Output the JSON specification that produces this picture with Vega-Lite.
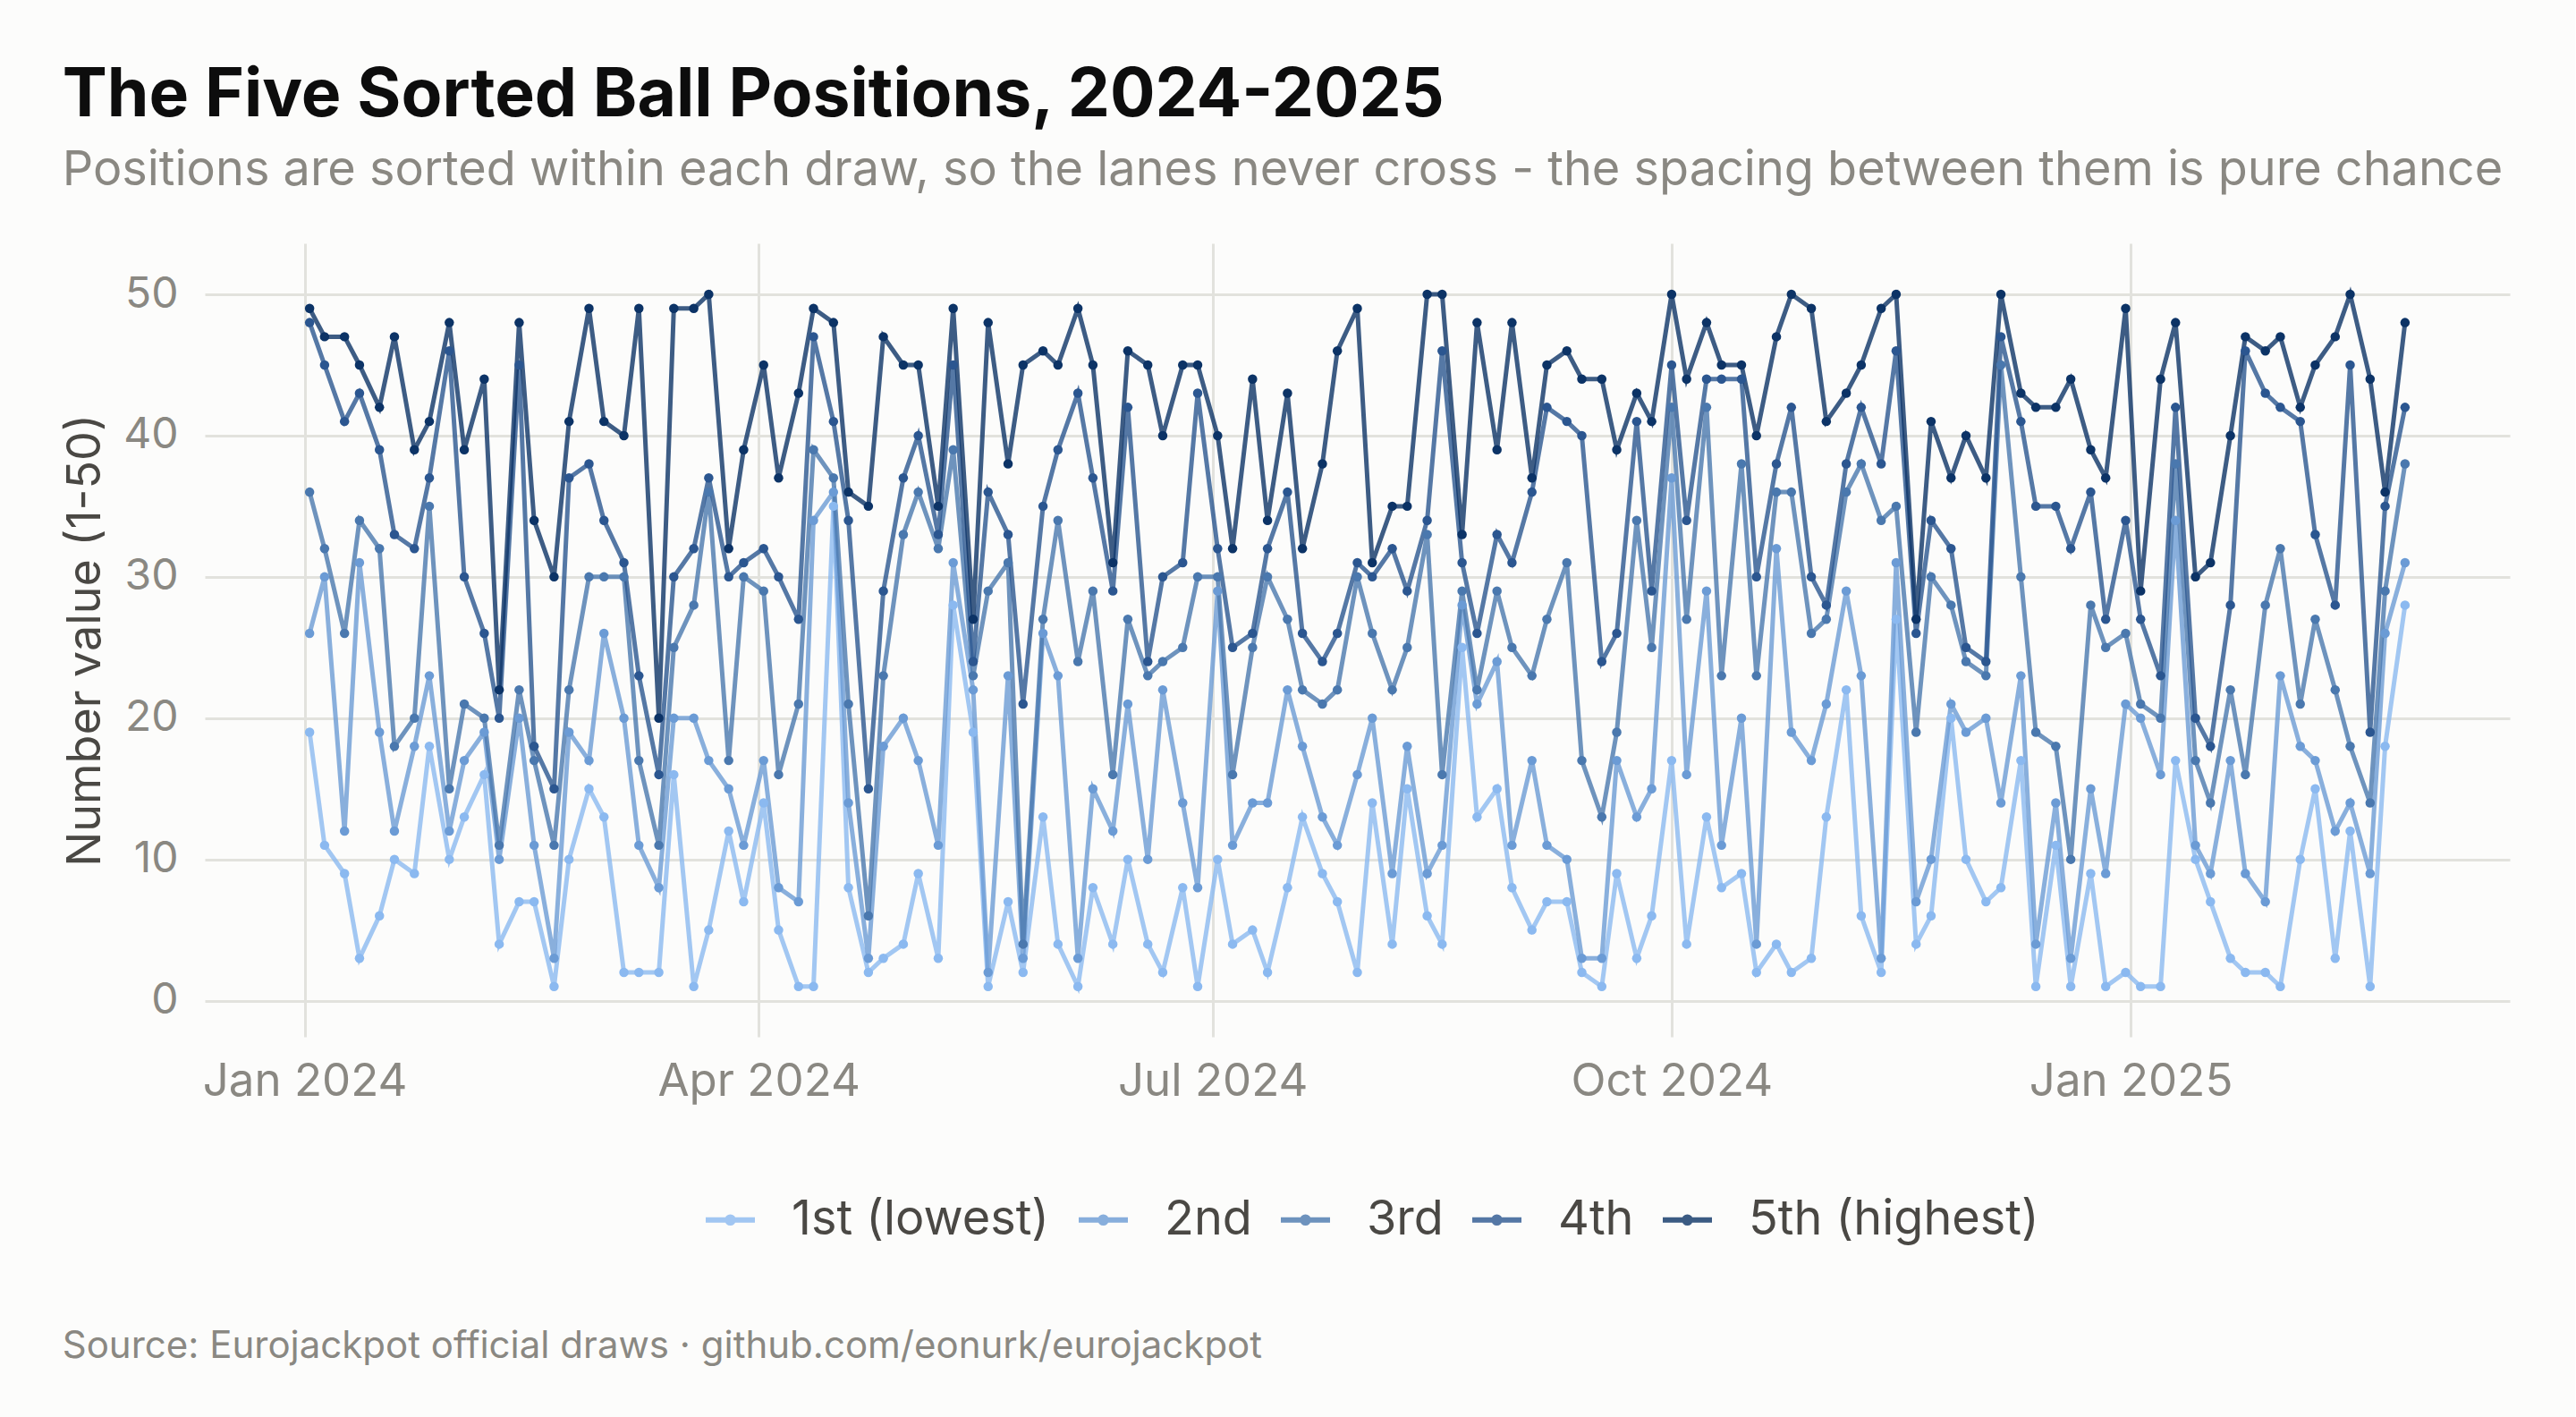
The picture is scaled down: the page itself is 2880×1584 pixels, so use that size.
{
  "$schema": "https://vega.github.io/schema/vega-lite/v6.json",
  "background": "#fcfcfb",
  "padding": {"left": 69, "top": 70, "right": 73, "bottom": 72},
  "title": {
    "text": "The Five Sorted Ball Positions, 2024-2025",
    "subtitle": "Positions are sorted within each draw, so the lanes never cross - the spacing between them is pure chance",
    "anchor": "start",
    "frame": "bounds",
    "font": "Inter",
    "fontSize": 75,
    "fontWeight": "bold",
    "color": "#0d0d0d",
    "subtitleFont": "Inter",
    "subtitleFontSize": 54,
    "subtitleColor": "#8a8882",
    "subtitlePadding": 18,
    "offset": 53
  },
  "vconcat": [
    {
      "width": 2577,
      "height": 887,
      "title": {
        "text": "Source: Eurojackpot official draws · github.com/eonurk/eurojackpot",
        "orient": "bottom",
        "anchor": "start",
        "frame": "bounds",
        "font": "Inter",
        "fontSize": 42,
        "fontWeight": "normal",
        "color": "#8a8882",
        "offset": 251
      },
      "data": {
        "values": [
          {"d":"2024-01-02","1st":19,"2nd":26,"3rd":36,"4th":48,"5th":49},
          {"d":"2024-01-05","1st":11,"2nd":30,"3rd":32,"4th":45,"5th":47},
          {"d":"2024-01-09","1st":9,"2nd":12,"3rd":26,"4th":41,"5th":47},
          {"d":"2024-01-12","1st":3,"2nd":31,"3rd":34,"4th":43,"5th":45},
          {"d":"2024-01-16","1st":6,"2nd":19,"3rd":32,"4th":39,"5th":42},
          {"d":"2024-01-19","1st":10,"2nd":12,"3rd":18,"4th":33,"5th":47},
          {"d":"2024-01-23","1st":9,"2nd":18,"3rd":20,"4th":32,"5th":39},
          {"d":"2024-01-26","1st":18,"2nd":23,"3rd":35,"4th":37,"5th":41},
          {"d":"2024-01-30","1st":10,"2nd":12,"3rd":15,"4th":46,"5th":48},
          {"d":"2024-02-02","1st":13,"2nd":17,"3rd":21,"4th":30,"5th":39},
          {"d":"2024-02-06","1st":16,"2nd":19,"3rd":20,"4th":26,"5th":44},
          {"d":"2024-02-09","1st":4,"2nd":10,"3rd":11,"4th":20,"5th":22},
          {"d":"2024-02-13","1st":7,"2nd":20,"3rd":22,"4th":45,"5th":48},
          {"d":"2024-02-16","1st":7,"2nd":11,"3rd":17,"4th":18,"5th":34},
          {"d":"2024-02-20","1st":1,"2nd":3,"3rd":11,"4th":15,"5th":30},
          {"d":"2024-02-23","1st":10,"2nd":19,"3rd":22,"4th":37,"5th":41},
          {"d":"2024-02-27","1st":15,"2nd":17,"3rd":30,"4th":38,"5th":49},
          {"d":"2024-03-01","1st":13,"2nd":26,"3rd":30,"4th":34,"5th":41},
          {"d":"2024-03-05","1st":2,"2nd":20,"3rd":30,"4th":31,"5th":40},
          {"d":"2024-03-08","1st":2,"2nd":11,"3rd":17,"4th":23,"5th":49},
          {"d":"2024-03-12","1st":2,"2nd":8,"3rd":11,"4th":16,"5th":20},
          {"d":"2024-03-15","1st":16,"2nd":20,"3rd":25,"4th":30,"5th":49},
          {"d":"2024-03-19","1st":1,"2nd":20,"3rd":28,"4th":32,"5th":49},
          {"d":"2024-03-22","1st":5,"2nd":17,"3rd":36,"4th":37,"5th":50},
          {"d":"2024-03-26","1st":12,"2nd":15,"3rd":17,"4th":30,"5th":32},
          {"d":"2024-03-29","1st":7,"2nd":11,"3rd":30,"4th":31,"5th":39},
          {"d":"2024-04-02","1st":14,"2nd":17,"3rd":29,"4th":32,"5th":45},
          {"d":"2024-04-05","1st":5,"2nd":8,"3rd":16,"4th":30,"5th":37},
          {"d":"2024-04-09","1st":1,"2nd":7,"3rd":21,"4th":27,"5th":43},
          {"d":"2024-04-12","1st":1,"2nd":34,"3rd":39,"4th":47,"5th":49},
          {"d":"2024-04-16","1st":35,"2nd":36,"3rd":37,"4th":41,"5th":48},
          {"d":"2024-04-19","1st":8,"2nd":14,"3rd":21,"4th":34,"5th":36},
          {"d":"2024-04-23","1st":2,"2nd":3,"3rd":6,"4th":15,"5th":35},
          {"d":"2024-04-26","1st":3,"2nd":18,"3rd":23,"4th":29,"5th":47},
          {"d":"2024-04-30","1st":4,"2nd":20,"3rd":33,"4th":37,"5th":45},
          {"d":"2024-05-03","1st":9,"2nd":17,"3rd":36,"4th":40,"5th":45},
          {"d":"2024-05-07","1st":3,"2nd":11,"3rd":32,"4th":33,"5th":35},
          {"d":"2024-05-10","1st":28,"2nd":31,"3rd":39,"4th":45,"5th":49},
          {"d":"2024-05-14","1st":19,"2nd":22,"3rd":23,"4th":24,"5th":27},
          {"d":"2024-05-17","1st":1,"2nd":2,"3rd":29,"4th":36,"5th":48},
          {"d":"2024-05-21","1st":7,"2nd":23,"3rd":31,"4th":33,"5th":38},
          {"d":"2024-05-24","1st":2,"2nd":3,"3rd":4,"4th":21,"5th":45},
          {"d":"2024-05-28","1st":13,"2nd":26,"3rd":27,"4th":35,"5th":46},
          {"d":"2024-05-31","1st":4,"2nd":23,"3rd":34,"4th":39,"5th":45},
          {"d":"2024-06-04","1st":1,"2nd":3,"3rd":24,"4th":43,"5th":49},
          {"d":"2024-06-07","1st":8,"2nd":15,"3rd":29,"4th":37,"5th":45},
          {"d":"2024-06-11","1st":4,"2nd":12,"3rd":16,"4th":29,"5th":31},
          {"d":"2024-06-14","1st":10,"2nd":21,"3rd":27,"4th":42,"5th":46},
          {"d":"2024-06-18","1st":4,"2nd":10,"3rd":23,"4th":24,"5th":45},
          {"d":"2024-06-21","1st":2,"2nd":22,"3rd":24,"4th":30,"5th":40},
          {"d":"2024-06-25","1st":8,"2nd":14,"3rd":25,"4th":31,"5th":45},
          {"d":"2024-06-28","1st":1,"2nd":8,"3rd":30,"4th":43,"5th":45},
          {"d":"2024-07-02","1st":10,"2nd":29,"3rd":30,"4th":32,"5th":40},
          {"d":"2024-07-05","1st":4,"2nd":11,"3rd":16,"4th":25,"5th":32},
          {"d":"2024-07-09","1st":5,"2nd":14,"3rd":25,"4th":26,"5th":44},
          {"d":"2024-07-12","1st":2,"2nd":14,"3rd":30,"4th":32,"5th":34},
          {"d":"2024-07-16","1st":8,"2nd":22,"3rd":27,"4th":36,"5th":43},
          {"d":"2024-07-19","1st":13,"2nd":18,"3rd":22,"4th":26,"5th":32},
          {"d":"2024-07-23","1st":9,"2nd":13,"3rd":21,"4th":24,"5th":38},
          {"d":"2024-07-26","1st":7,"2nd":11,"3rd":22,"4th":26,"5th":46},
          {"d":"2024-07-30","1st":2,"2nd":16,"3rd":30,"4th":31,"5th":49},
          {"d":"2024-08-02","1st":14,"2nd":20,"3rd":26,"4th":30,"5th":31},
          {"d":"2024-08-06","1st":4,"2nd":9,"3rd":22,"4th":32,"5th":35},
          {"d":"2024-08-09","1st":15,"2nd":18,"3rd":25,"4th":29,"5th":35},
          {"d":"2024-08-13","1st":6,"2nd":9,"3rd":33,"4th":34,"5th":50},
          {"d":"2024-08-16","1st":4,"2nd":11,"3rd":16,"4th":46,"5th":50},
          {"d":"2024-08-20","1st":25,"2nd":28,"3rd":29,"4th":31,"5th":33},
          {"d":"2024-08-23","1st":13,"2nd":21,"3rd":22,"4th":26,"5th":48},
          {"d":"2024-08-27","1st":15,"2nd":24,"3rd":29,"4th":33,"5th":39},
          {"d":"2024-08-30","1st":8,"2nd":11,"3rd":25,"4th":31,"5th":48},
          {"d":"2024-09-03","1st":5,"2nd":17,"3rd":23,"4th":36,"5th":37},
          {"d":"2024-09-06","1st":7,"2nd":11,"3rd":27,"4th":42,"5th":45},
          {"d":"2024-09-10","1st":7,"2nd":10,"3rd":31,"4th":41,"5th":46},
          {"d":"2024-09-13","1st":2,"2nd":3,"3rd":17,"4th":40,"5th":44},
          {"d":"2024-09-17","1st":1,"2nd":3,"3rd":13,"4th":24,"5th":44},
          {"d":"2024-09-20","1st":9,"2nd":17,"3rd":19,"4th":26,"5th":39},
          {"d":"2024-09-24","1st":3,"2nd":13,"3rd":34,"4th":41,"5th":43},
          {"d":"2024-09-27","1st":6,"2nd":15,"3rd":25,"4th":29,"5th":41},
          {"d":"2024-10-01","1st":17,"2nd":37,"3rd":42,"4th":45,"5th":50},
          {"d":"2024-10-04","1st":4,"2nd":16,"3rd":27,"4th":34,"5th":44},
          {"d":"2024-10-08","1st":13,"2nd":29,"3rd":42,"4th":44,"5th":48},
          {"d":"2024-10-11","1st":8,"2nd":11,"3rd":23,"4th":44,"5th":45},
          {"d":"2024-10-15","1st":9,"2nd":20,"3rd":38,"4th":44,"5th":45},
          {"d":"2024-10-18","1st":2,"2nd":4,"3rd":23,"4th":30,"5th":40},
          {"d":"2024-10-22","1st":4,"2nd":32,"3rd":36,"4th":38,"5th":47},
          {"d":"2024-10-25","1st":2,"2nd":19,"3rd":36,"4th":42,"5th":50},
          {"d":"2024-10-29","1st":3,"2nd":17,"3rd":26,"4th":30,"5th":49},
          {"d":"2024-11-01","1st":13,"2nd":21,"3rd":27,"4th":28,"5th":41},
          {"d":"2024-11-05","1st":22,"2nd":29,"3rd":36,"4th":38,"5th":43},
          {"d":"2024-11-08","1st":6,"2nd":23,"3rd":38,"4th":42,"5th":45},
          {"d":"2024-11-12","1st":2,"2nd":3,"3rd":34,"4th":38,"5th":49},
          {"d":"2024-11-15","1st":27,"2nd":31,"3rd":35,"4th":46,"5th":50},
          {"d":"2024-11-19","1st":4,"2nd":7,"3rd":19,"4th":26,"5th":27},
          {"d":"2024-11-22","1st":6,"2nd":10,"3rd":30,"4th":34,"5th":41},
          {"d":"2024-11-26","1st":20,"2nd":21,"3rd":28,"4th":32,"5th":37},
          {"d":"2024-11-29","1st":10,"2nd":19,"3rd":24,"4th":25,"5th":40},
          {"d":"2024-12-03","1st":7,"2nd":20,"3rd":23,"4th":24,"5th":37},
          {"d":"2024-12-06","1st":8,"2nd":14,"3rd":45,"4th":47,"5th":50},
          {"d":"2024-12-10","1st":17,"2nd":23,"3rd":30,"4th":41,"5th":43},
          {"d":"2024-12-13","1st":1,"2nd":4,"3rd":19,"4th":35,"5th":42},
          {"d":"2024-12-17","1st":11,"2nd":14,"3rd":18,"4th":35,"5th":42},
          {"d":"2024-12-20","1st":1,"2nd":3,"3rd":10,"4th":32,"5th":44},
          {"d":"2024-12-24","1st":9,"2nd":15,"3rd":28,"4th":36,"5th":39},
          {"d":"2024-12-27","1st":1,"2nd":9,"3rd":25,"4th":27,"5th":37},
          {"d":"2024-12-31","1st":2,"2nd":21,"3rd":26,"4th":34,"5th":49},
          {"d":"2025-01-03","1st":1,"2nd":20,"3rd":21,"4th":27,"5th":29},
          {"d":"2025-01-07","1st":1,"2nd":16,"3rd":20,"4th":23,"5th":44},
          {"d":"2025-01-10","1st":17,"2nd":34,"3rd":38,"4th":42,"5th":48},
          {"d":"2025-01-14","1st":10,"2nd":11,"3rd":17,"4th":20,"5th":30},
          {"d":"2025-01-17","1st":7,"2nd":9,"3rd":14,"4th":18,"5th":31},
          {"d":"2025-01-21","1st":3,"2nd":17,"3rd":22,"4th":28,"5th":40},
          {"d":"2025-01-24","1st":2,"2nd":9,"3rd":16,"4th":46,"5th":47},
          {"d":"2025-01-28","1st":2,"2nd":7,"3rd":28,"4th":43,"5th":46},
          {"d":"2025-01-31","1st":1,"2nd":23,"3rd":32,"4th":42,"5th":47},
          {"d":"2025-02-04","1st":10,"2nd":18,"3rd":21,"4th":41,"5th":42},
          {"d":"2025-02-07","1st":15,"2nd":17,"3rd":27,"4th":33,"5th":45},
          {"d":"2025-02-11","1st":3,"2nd":12,"3rd":22,"4th":28,"5th":47},
          {"d":"2025-02-14","1st":12,"2nd":14,"3rd":18,"4th":45,"5th":50},
          {"d":"2025-02-18","1st":1,"2nd":9,"3rd":14,"4th":19,"5th":44},
          {"d":"2025-02-21","1st":18,"2nd":26,"3rd":29,"4th":35,"5th":36},
          {"d":"2025-02-25","1st":28,"2nd":31,"3rd":38,"4th":42,"5th":48}
        ]
      },
      "transform": [
        {"fold": ["1st", "2nd", "3rd", "4th", "5th"], "as": ["pos", "num"]}
      ],
      "encoding": {
        "x": {
          "field": "d",
          "type": "temporal",
          "scale": {
            "type": "utc",
            "domain": [
              {"year": 2023, "month": 12, "date": 12, "utc": true},
              {"year": 2025, "month": 3, "date": 18, "utc": true}
            ]
          },
          "axis": {
            "title": null,
            "format": "%b %Y",
            "values": [
              {"year": 2024, "month": 1, "date": 1, "utc": true},
              {"year": 2024, "month": 4, "date": 1, "utc": true},
              {"year": 2024, "month": 7, "date": 1, "utc": true},
              {"year": 2024, "month": 10, "date": 1, "utc": true},
              {"year": 2025, "month": 1, "date": 1, "utc": true}
            ],
            "labelFontSize": 51,
            "labelPadding": 25
          }
        },
        "y": {
          "field": "num",
          "type": "quantitative",
          "scale": {"domain": [-2.56, 53.61], "nice": false, "zero": false},
          "axis": {
            "title": "Number value (1-50)",
            "values": [0, 10, 20, 30, 40, 50],
            "labelPadding": 30,
            "titlePadding": 15
          }
        },
        "color": {
          "field": "pos",
          "type": "nominal",
          "scale": {
            "domain": ["1st", "2nd", "3rd", "4th", "5th"],
            "range": ["#8bb9f0", "#6b9bd5", "#4a78ae", "#2b5690", "#0c3366"]
          }
        }
      },
      "layer": [
        {
          "mark": {"type": "line", "strokeWidth": 5, "opacity": 0.8},
          "encoding": {
            "color": {
              "field": "pos",
              "type": "nominal",
              "scale": {
                "domain": ["1st", "2nd", "3rd", "4th", "5th"],
                "range": ["#8bb9f0", "#6b9bd5", "#4a78ae", "#2b5690", "#0c3366"]
              },
              "legend": {
                "orient": "none",
                "legendX": 557,
                "legendY": 1061,
                "direction": "horizontal",
                "title": null,
                "symbolType": "M-1,0H1M-0.12,0A0.12,0.12 0 1,0 0.12,0A0.12,0.12 0 1,0 -0.12,0",
                "symbolSize": 3025,
                "symbolStrokeWidth": 6,
                "labelFont": "Inter",
                "labelFontSize": 54,
                "labelColor": "#4a4844",
                "labelOffset": 38,
                "labelLimit": 0,
                "columnPadding": 20,
                "labelExpr": "datum.label == '1st' ? '1st (lowest)' : datum.label == '5th' ? '5th (highest)' : datum.label"
              }
            }
          }
        },
        {
          "mark": {"type": "point", "filled": true, "size": 110, "opacity": 1},
          "encoding": {
            "color": {
              "field": "pos",
              "type": "nominal",
              "scale": {
                "domain": ["1st", "2nd", "3rd", "4th", "5th"],
                "range": ["#8bb9f0", "#6b9bd5", "#4a78ae", "#2b5690", "#0c3366"]
              },
              "legend": null
            }
          }
        }
      ]
    }
  ],
  "config": {
    "view": {"stroke": null},
    "font": "Inter",
    "axis": {
      "grid": true,
      "gridColor": "#e2e2dd",
      "gridWidth": 3,
      "domain": false,
      "ticks": false,
      "tickSize": 0,
      "labelFont": "Inter",
      "labelFontSize": 48,
      "labelLimit": 0,
      "labelColor": "#8a8882",
      "titleFont": "Inter",
      "titleFontSize": 52,
      "titleFontWeight": "normal",
      "titleColor": "#4a4844"
    }
  }
}
